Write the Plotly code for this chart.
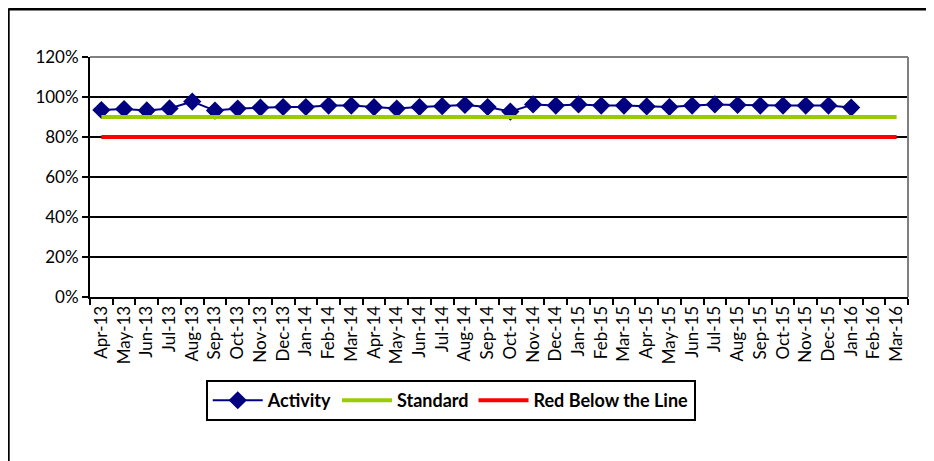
import plotly.graph_objects as go

months = ["Apr-13", "May-13", "Jun-13", "Jul-13", "Aug-13", "Sep-13", "Oct-13", "Nov-13",
          "Dec-13", "Jan-14", "Feb-14", "Mar-14", "Apr-14", "May-14", "Jun-14", "Jul-14",
          "Aug-14", "Sep-14", "Oct-14", "Nov-14", "Dec-14", "Jan-15", "Feb-15", "Mar-15",
          "Apr-15", "May-15", "Jun-15", "Jul-15", "Aug-15", "Sep-15", "Oct-15", "Nov-15",
          "Dec-15", "Jan-16", "Feb-16", "Mar-16"]

activity = [0.935, 0.94, 0.933, 0.943, 0.977, 0.932, 0.942, 0.947, 0.95, 0.95, 0.957, 0.957,
            0.949, 0.942, 0.95, 0.954, 0.96, 0.95, 0.927, 0.963, 0.957, 0.963, 0.957, 0.957,
            0.953, 0.95, 0.957, 0.963, 0.96, 0.957, 0.957, 0.957, 0.957, 0.947]
standard = [0.90] * len(months)
red_line = [0.80] * len(months)

fig = go.Figure()
fig.add_trace(go.Scatter(x=months[:len(activity)], y=activity, name="Activity",
                         mode="lines+markers",
                         line=dict(color="#000080", width=2),
                         marker=dict(symbol="diamond", size=14, color="#000080")))
fig.add_trace(go.Scatter(x=months, y=standard, name="Standard", mode="lines",
                         line=dict(color="#99CC00", width=4)))
fig.add_trace(go.Scatter(x=months, y=red_line, name="Red Below the Line", mode="lines",
                         line=dict(color="#FF0000", width=4)))

fig.update_layout(
    width=926, height=453,
    margin=dict(l=82, r=26, t=49, b=164),
    plot_bgcolor="white", paper_bgcolor="white",
    font=dict(family="Lato", size=17, color="black"),
    showlegend=True,
    legend=dict(orientation="h", x=0.441, xanchor="center", y=-0.346, yanchor="top",
                bordercolor="black", borderwidth=2,
                font=dict(family="Lato", size=18, color="black", weight="bold"),
                itemwidth=50, tracegroupgap=0),
    shapes=[
        # grey plot-area border (top and right)
        dict(type="line", xref="x domain", yref="y domain", x0=0, x1=1, y0=1, y1=1,
             line=dict(color="#808080", width=2), layer="above"),
        dict(type="line", xref="x domain", yref="y domain", x0=1, x1=1, y0=0, y1=1,
             line=dict(color="#808080", width=2), layer="above"),
        # outer chart frame
        dict(type="line", xref="paper", yref="paper", x0=-0.1, x1=1.05, y0=1.2, y1=1.2,
             line=dict(color="black", width=3)),
        dict(type="line", xref="paper", yref="paper", x0=-0.1, x1=-0.1, y0=1.2, y1=-0.7,
             line=dict(color="black", width=3)),
    ],
)

fig.update_xaxes(type="category", range=[-0.5, len(months) - 0.5],
                 tickangle=-90, tickson="boundaries", ticks="outside", ticklen=6,
                 tickwidth=2, tickcolor="black", showline=True, linecolor="black",
                 linewidth=2, showgrid=False, zeroline=False, tickfont=dict(size=17))

fig.update_yaxes(range=[0, 1.2], tickvals=[0, 0.2, 0.4, 0.6, 0.8, 1.0, 1.2],
                 tickformat=".0%", ticks="outside", ticklen=6, tickwidth=2,
                 tickcolor="black", showline=True, linecolor="black", linewidth=2,
                 showgrid=True, gridcolor="black", gridwidth=2, zeroline=False,
                 tickfont=dict(size=17))

fig.write_html("out.html")
